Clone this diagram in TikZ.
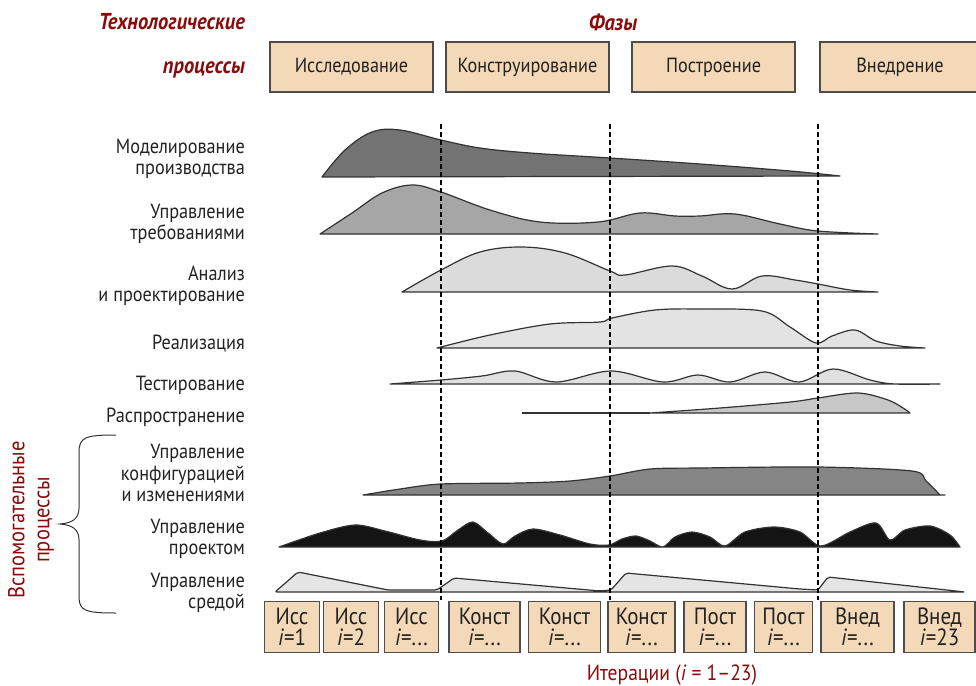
\documentclass[tikz,border=0pt]{standalone}
\usepackage{fontspec}
\setmainfont{PT Sans}[FakeStretch=0.89]
\definecolor{dred}{HTML}{8A0B0B}
\definecolor{phasefill}{HTML}{F4D9B8}
\definecolor{txt}{HTML}{222222}
\tikzset{
  phasebox/.style={draw=black!70, line width=1.1pt, fill=phasefill, minimum height=50pt, inner sep=0pt, font=\fontsize{20.5}{22}\selectfont, text=txt},
  iterbox/.style={draw=black!70, line width=1.1pt, fill=phasefill, minimum height=51pt, inner sep=0pt, align=center, font=\fontsize{23.5}{21.5}\selectfont, text=txt},
  proclabel/.style={anchor=east, align=right, font=\fontsize{20.5}{21.5}\selectfont, text=txt, inner sep=0pt},
  hdr/.style={font=\fontsize{23}{24}\selectfont\bfseries\itshape, text=dred, inner sep=0pt},
  curve/.style={draw=black!80, line width=1.2pt, line join=round},
  phaseline/.style={line width=2pt, dash pattern=on 5pt off 3pt},
}
\begin{document}
\begin{tikzpicture}[x=1pt,y=-1pt]
\useasboundingbox (0,0) rectangle (976,685);
% headers
\node[hdr, anchor=east] (h1) at (245,22) {Технологические};
\node[hdr, anchor=east] (h2) at (245,70) {процессы};
\node[hdr] (h3) at (613,22) {Фазы};
% phase boxes
\node[phasebox, minimum width=163pt] (p1) at (351.5,67) {\raisebox{-2pt}{Исследование}};
\node[phasebox, minimum width=163pt] (p2) at (527.5,67) {\raisebox{-2pt}{Конструирование}};
\node[phasebox, minimum width=163pt] (p3) at (713.5,67) {\raisebox{-2pt}{Построение}};
\node[phasebox, minimum width=160pt] (p4) at (900,67) {\raisebox{-2pt}{Внедрение}};
% process labels
\node[proclabel] (l1) at (245,159) {Моделирование\\производства};
\node[proclabel] (l2) at (245,224) {Управление\\требованиями};
\node[proclabel] (l3) at (245,286) {Анализ\\и проектирование};
\node[proclabel] (l4) at (245,344) {Реализация};
\node[proclabel] (l5) at (245,385) {Тестирование};
\node[proclabel] (l6) at (245,417) {Распространение};
\node[proclabel] (l7) at (245,473) {Управление\\конфигурацией\\и изменениями};
\node[proclabel] (l8) at (245,539) {Управление\\проектом};
\node[proclabel] (l9) at (245,593) {Управление\\средой};
% brace and side label
\draw[line width=1pt, black!80] (116,435) .. controls (86,435) and (79,437) .. (79,452) -- (79,508) .. controls (79,519) and (72,523) .. (60,524) .. controls (72,525) and (79,529) .. (79,540) -- (79,597) .. controls (79,611) and (86,613) .. (116,613);
\node[rotate=90, align=center, text=dred, font=\fontsize{23}{25}\selectfont, inner sep=0pt] (side) at (31,520) {Вспомогательные\\процессы};
% curves
\filldraw[curve, fill=black!55] plot[smooth, tension=0.6] coordinates {(322,177) (345,150) (372,132) (400,130) (441,140) (480,148) (530,153) (610,158) (700,164) (790,171) (840,176)} -- cycle;
\filldraw[curve, fill=black!35] plot[smooth, tension=0.6] coordinates {(320,234) (352,213) (382,193) (412,185) (441,192) (490,210) (540,222) (598,222) (640,213) (675,216) (700,216) (735,214) (780,224) (818,231) (878,234)} -- cycle;
\filldraw[curve, fill=black!14] plot[smooth, tension=0.6] coordinates {(402,292) (441,270) (480,252) (522,247) (565,253) (610,271) (625,275) (672,266) (702,276) (732,289) (762,276) (795,280) (818,284) (850,290) (878,292)} -- cycle;
\filldraw[curve, fill=black!11] plot[smooth, tension=0.55] coordinates {(437,348) (490,335) (550,324) (600,322) (612,318) (655,310) (700,309) (762,311) (790,327) (816,343) (832,336) (855,330) (876,341) (900,346) (925,348)} -- cycle;
\filldraw[curve, fill=black!12] plot[smooth, tension=0.55] coordinates {(390,384) (441,380) (482,376) (515,371) (556,382) (611,371) (663,382) (698,375) (730,382) (765,372) (799,382) (833,369) (870,380) (895,384) (940,384)} -- cycle;
\draw[curve] (522,413) -- (650,413);
\filldraw[curve, fill=black!22] plot[smooth, tension=0.55] coordinates {(650,413) (720,408) (790,402) (818,398) (858,393) (888,400) (903,408) (910,413)} -- cycle;
\filldraw[curve, fill=black!48] plot[smooth, tension=0.5] coordinates {(363,495) (400,489) (441,484) (520,483) (570,481) (610,476) (650,469) (700,468) (818,467) (912,471) (926,481) (940,495)} -- (945,495) -- cycle;
\filldraw[curve, fill=black!92] plot[smooth, tension=0.5] coordinates {(279,547) (320,533) (355,525) (385,531) (420,540) (442,541) (458,530) (473,522) (488,533) (503,544) (515,536) (533,529) (560,535) (590,544) (609,545) (622,539) (636,536) (650,541) (663,547) (675,537) (692,532) (710,537) (725,546) (745,532) (774,527) (800,532) (821,546) (850,532) (876,523) (890,540) (905,530) (930,526) (950,535) (960,547)} -- cycle;
\filldraw[curve, fill=black!10, rounded corners=2pt] (275,592) -- (298,572) -- (388,590) -- (437,590) -- (454,578) -- (600,591) -- (611,590) -- (626,573) -- (800,589) -- (818,590) -- (828,577) -- (965,592) -- cycle;
% phase dividers
\foreach \xx/\nm in {441/d1,610/d2,818/d3}{
  \coordinate (\nm t) at (\xx,124);
  \coordinate (\nm b) at (\xx,600);
  \draw[phaseline] (\nm t) -- (\nm b);
}
% iteration boxes
\node[iterbox, minimum width=55pt] (i1) at (292,627) {Исс\\\textit{i}=1};
\node[iterbox, minimum width=55pt] (i2) at (351,627) {Исс\\\textit{i}=2};
\node[iterbox, minimum width=54pt] (i3) at (411.5,627) {Исс\\\textit{i}=...};
\node[iterbox, minimum width=71pt] (i4) at (484.5,627) {Конст\\\textit{i}=...};
\node[iterbox, minimum width=72pt] (i5) at (564.5,627) {Конст\\\textit{i}=...};
\node[iterbox, minimum width=67pt] (i6) at (641.5,627) {Конст\\\textit{i}=...};
\node[iterbox, minimum width=62pt] (i7) at (715,627) {Пост\\\textit{i}=...};
\node[iterbox, minimum width=58pt] (i8) at (783.5,627) {Пост\\\textit{i}=...};
\node[iterbox, minimum width=73pt] (i9) at (857.5,627) {Внед\\\textit{i}=...};
\node[iterbox, minimum width=71pt] (i10) at (939.5,627) {Внед\\\textit{i}=23};
\node[text=dred, font=\fontsize{22}{24}\selectfont, inner sep=0pt] (it) at (672,675) {Итерации (\textit{i} = 1–23)};
\end{tikzpicture}
\end{document}
